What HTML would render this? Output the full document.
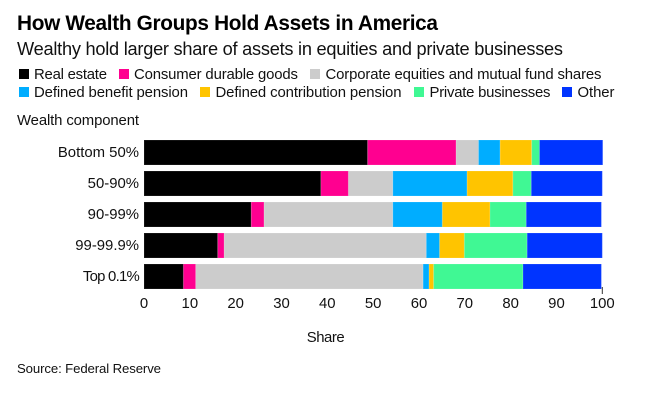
<!DOCTYPE html>
<html lang="en">
<head>
<meta charset="utf-8">
<title>How Wealth Groups Hold Assets in America</title>
<style>
html,body{margin:0;padding:0;background:#fff;width:672px;height:404px;overflow:hidden}
svg{display:block}
text{font-family:"Liberation Sans",sans-serif;fill:#111}
</style>
</head>
<body>
<svg id="chart" width="672" height="404" viewBox="0 0 672 404" xmlns="http://www.w3.org/2000/svg">
  <rect width="672" height="404" fill="#fff"/>
  <text x="17" y="30" font-size="20.8" font-weight="700" textLength="421" lengthAdjust="spacing" style="fill:#000">How Wealth Groups Hold Assets in America</text>
  <text x="17" y="55" font-size="18.2" textLength="546" lengthAdjust="spacing">Wealthy hold larger share of assets in equities and private businesses</text>

  <g font-size="14.9">
    <g><rect x="19" y="69" width="10" height="10" fill="#000"/><text x="34" y="79" textLength="73">Real estate</text></g>
    <g><rect x="119" y="69" width="10" height="10" fill="#ff0090"/><text x="134" y="79" textLength="164">Consumer durable goods</text></g>
    <g><rect x="310" y="69" width="10" height="10" fill="#cccccc"/><text x="325.5" y="79" textLength="276">Corporate equities and mutual fund shares</text></g>
    <g><rect x="19" y="87" width="10" height="10" fill="#00adff"/><text x="34" y="97" textLength="154">Defined benefit pension</text></g>
    <g><rect x="200" y="87" width="10" height="10" fill="#ffc400"/><text x="215.5" y="97" textLength="186">Defined contribution pension</text></g>
    <g><rect x="414" y="87" width="10" height="10" fill="#40f894"/><text x="429.5" y="97" textLength="121">Private businesses</text></g>
    <g><rect x="562" y="87" width="10" height="10" fill="#0034ff"/><text x="577.5" y="97" textLength="37">Other</text></g>
  </g>

  <text x="17" y="125" font-size="14.9" textLength="122">Wealth component</text>
  <g id="bars"></g>
  <g id="y-axis"></g>
  <g id="x-axis"></g>
  <text x="306.7" y="342" font-size="14.9" textLength="38">Share</text>
  <text x="17" y="373" font-size="13.2" textLength="144">Source: Federal Reserve</text>
</svg>
<script>
const groups = ["Bottom 50%", "50-90%", "90-99%", "99-99.9%", "Top 0.1%"];
const realEstate = [48.8, 38.6, 23.4, 16.1, 8.6];
const consumerDurableGoods = [19.3, 6.0, 2.8, 1.4, 2.7];
const corporateEquities = [4.9, 9.7, 28.1, 44.1, 49.6];
const definedBenefitPension = [4.7, 16.2, 10.8, 2.9, 1.3];
const definedContributionPension = [6.9, 10.0, 10.4, 5.4, 1.0];
const privateBusinesses = [1.7, 4.0, 7.9, 13.7, 19.5];
const other = [13.8, 15.5, 16.4, 16.4, 17.1];
const xTickLabels = [0, 10, 20, 30, 40, 50, 60, 70, 80, 90, 100];

const seriesNames = ["real-estate", "consumer-durable-goods", "corporate-equities", "defined-benefit-pension", "defined-contribution-pension", "private-businesses", "other"];
const seriesColors = ["#000000", "#ff0090", "#cccccc", "#00adff", "#ffc400", "#40f894", "#0034ff"];

const allSeries = [realEstate, consumerDurableGoods, corporateEquities, definedBenefitPension, definedContributionPension, privateBusinesses, other];
const NS = "http://www.w3.org/2000/svg";

function xScale(v) { return 144 + v * 4.583; }
function yBand(i) { return 140 + i * 31; }
const bandHeight = 25;

function make(tag, attrs) {
  const el = document.createElementNS(NS, tag);
  for (const k in attrs) el.setAttribute(k, attrs[k]);
  return el;
}

const barsG = document.getElementById("bars");
groups.forEach(function (group, i) {
  let cum = 0;
  allSeries.forEach(function (series, s) {
    const x0 = xScale(cum);
    cum += series[i];
    const x1 = xScale(cum);
    const r = make("rect", {
      x: x0, y: yBand(i), width: x1 - x0, height: bandHeight,
      fill: seriesColors[s], stroke: "#ffffff", "stroke-opacity": 0.15, "stroke-width": 1
    });
    
    
    r.setAttribute('data-series', seriesNames[s]);
    barsG.appendChild(r);
  });
});

const yG = document.getElementById("y-axis");
groups.forEach(function (group, i) {
  const t = make("text", { x: 139, y: yBand(i) + 17, "font-size": 14.9, "text-anchor": "end" });
  if (group.indexOf("Top") === 0) t.setAttribute("letter-spacing", "-0.75");
  t.textContent = group;
  
  
  yG.appendChild(t);
});

const xG = document.getElementById("x-axis");
xTickLabels.forEach(function (v) {
  const t = make("text", { x: xScale(v), y: 308, "font-size": 14.9, "text-anchor": "middle" });
  t.textContent = v;
  
  
  xG.appendChild(t);
});
const lastTick = xTickLabels[xTickLabels.length - 1];
const tick = make("line", { x1: xScale(lastTick), x2: xScale(lastTick), y1: 287, y2: 294, stroke: "#333", "stroke-width": 1 });


xG.appendChild(tick);
</script>
</body>
</html>
